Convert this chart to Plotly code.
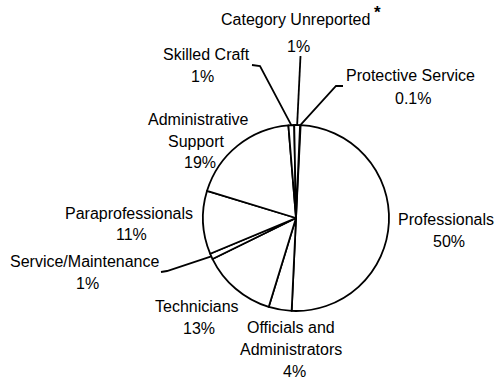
import math
import plotly.graph_objects as go

# ---- data ----
categories = [
    "Protective Service",
    "Professionals",
    "Officials and Administrators",
    "Technicians",
    "Service/Maintenance",
    "Paraprofessionals",
    "Administrative Support",
    "Skilled Craft",
    "Category Unreported",
]
values = [0.1, 50, 4, 13, 1, 11, 19, 1, 1]
pct_labels = ["0.1%", "50%", "4%", "13%", "1%", "11%", "19%", "1%", "1%"]
label_lines = [
    ["Protective Service"],
    ["Professionals"],
    ["Officials and", "Administrators"],
    ["Technicians"],
    ["Service/Maintenance"],
    ["Paraprofessionals"],
    ["Administrative", "Support"],
    ["Skilled Craft"],
    ["Category Unreported"],
]

# ---- layout constants (pixels) ----
W, H = 495, 379
CX, CY, R = 296, 218, 93
ROT = 2.5
FONT = dict(family="Liberation Sans, Arial, sans-serif", size=16, color="black")

def px(x):
    return x / W

def py(y):
    return 1 - y / H

fig = go.Figure(
    go.Pie(
        labels=categories,
        values=values,
        sort=False,
        direction="clockwise",
        rotation=ROT,
        textinfo="none",
        hoverinfo="label+percent",
        marker=dict(colors=["white"] * len(values), line=dict(color="black", width=1.8)),
        domain=dict(x=[px(CX - R), px(CX + R)], y=[py(CY + R), py(CY - R)]),
        showlegend=False,
    )
)

# slice mid-angles (derived from data)
total = sum(values)
mids = []
acc = 0.0
for v in values:
    mids.append(ROT + (acc + v / 2) / total * 360.0)
    acc += v

def edge_point(i):
    a = math.radians(mids[i])
    return CX + R * math.sin(a), CY - R * math.cos(a)

# line centres (pixels) for each label: name lines..., then percentage
line_pos = {
    "Protective Service": [(410, 75), (413, 98)],
    "Professionals": [(446, 219), (449, 241)],
    "Officials and Administrators": [(291, 327), (291, 349), (294, 371)],
    "Technicians": [(197, 306), (199, 328)],
    "Service/Maintenance": [(85, 261), (87, 283)],
    "Paraprofessionals": [(129, 213), (131, 234)],
    "Administrative Support": [(198, 119), (196, 141), (200, 163)],
    "Skilled Craft": [(206, 55), (202, 77)],
    "Category Unreported": [(295, 19), (298, 46)],
}

annotations = []
for i, name in enumerate(categories):
    texts = label_lines[i] + [pct_labels[i]]
    for t, (x, y) in zip(texts, line_pos[name]):
        annotations.append(dict(x=px(x), y=py(y), xref="paper", yref="paper",
                                text=t, showarrow=False, font=FONT,
                                xanchor="center", yanchor="middle"))
annotations.append(dict(x=px(377), y=py(12), xref="paper", yref="paper",
                        text="<b>*</b>", showarrow=False,
                        font=dict(family=FONT["family"], size=17, color="black"),
                        xanchor="center", yanchor="middle"))

# leader lines: label anchor -> elbow -> slice edge
leaders = {
    "Category Unreported": [(300.5, 56)],
    "Skilled Craft": [(252, 65), (260, 66)],
    "Protective Service": [(343, 86), (336, 86)],
    "Service/Maintenance": [(161, 272), (167, 271)],
}
shapes = []
for name, pts in leaders.items():
    i = categories.index(name)
    ex, ey = edge_point(i)
    allpts = pts + [(ex, ey)]
    path = "M " + " L ".join(f"{px(x):.5f},{py(y):.5f}" for x, y in allpts)
    shapes.append(dict(type="path", path=path, xref="paper", yref="paper",
                       line=dict(color="black", width=1.8)))

fig.update_layout(
    width=W, height=H,
    margin=dict(l=0, r=0, t=0, b=0),
    paper_bgcolor="white", plot_bgcolor="white",
    annotations=annotations, shapes=shapes,
)

fig.write_html("out.html", config={"displayModeBar": False},
               post_script="document.body.style.margin='0';")
